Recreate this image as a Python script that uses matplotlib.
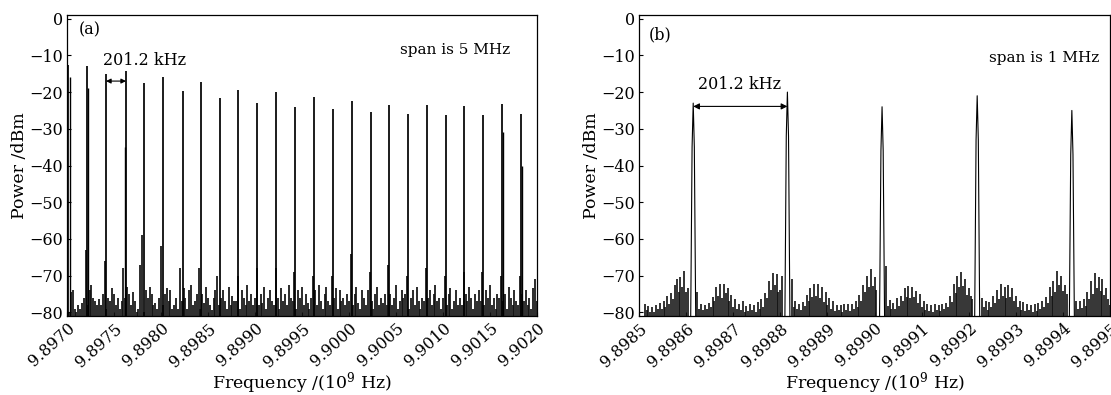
import numpy as np
import matplotlib
matplotlib.use("Agg")
import matplotlib.pyplot as plt

plt.rcParams['font.family'] = ['DejaVu Serif']
plt.rcParams['mathtext.fontset'] = 'dejavuserif'
plt.rcParams['axes.unicode_minus'] = True

# ---------------- Panel (a): span 5 MHz ----------------
a_peak_freq = [9.897014, 9.897210, 9.897415, 9.897628, 9.897822, 9.898024, 9.898231,
               9.898426, 9.898628, 9.898822, 9.899024, 9.899223, 9.899426, 9.899628,
               9.899827, 9.900029, 9.900231, 9.900429, 9.900631, 9.900827, 9.901032,
               9.901227, 9.901429, 9.901624, 9.901827]
a_peak_dbm = [-12.5, -13, -15, -14.2, -17.6, -16, -19.7, -17.3, -21.7, -19.4, -23.1, -20.1,
              -24, -21.4, -24.5, -22.3, -25.4, -23.4, -26.1, -23.4, -26.3, -23.8, -26.3,
              -23.2, -26.1]
# secondary (shorter) lines next to some peaks
a_side_idx = [0, 1, 3, 23, 24]
a_side_dbm = [-16, -19, -35, -31, -40]
a_side_dir = [1, 1, -1, 1, 1]

a_noise_start = 9.8970
a_noise_step = 0.00002
a_noise_dbm = [
    -78, -80, -74.5, -74, -79, -80, -78, -79, -77.5, -76,
    -63, -78, -74, -72.5, -76, -77, -78, -76.5, -78, -75,
    -66, -79, -76, -77, -73.5, -75, -78, -76, -79, -77,
    -68, -76, -73, -75, -78, -74.5, -77, -80, -79, -67,
    -59, -80, -74, -76, -73, -75, -78, -77.5, -79, -76,
    -62, -78, -75, -73.5, -77, -74, -79, -78, -76, -79,
    -68, -77, -73.5, -76, -79, -74, -72.5, -78, -77, -75,
    -68, -79, -75, -77.5, -73, -76, -78, -79.5, -76, -74,
    -70, -78, -76, -74, -77, -79, -73, -78, -75.5, -77,
    -77, -70, -79, -74, -76, -78, -72.5, -77, -75, -78,
    -76, -68, -78, -75, -77.5, -73, -79, -76, -74, -77,
    -78, -68, -76, -79, -73.5, -77, -75, -78, -72.5, -76,
    -77, -69, -79, -74, -76, -73, -78, -75, -77.5, -79,
    -76, -70, -74, -78, -72.5, -77, -79, -75, -73, -77,
    -78, -70, -76, -73.5, -79, -74, -77, -76, -78, -75,
    -77, -64, -78, -75, -73, -77.5, -79, -74, -76, -78,
    -74, -69, -77, -79, -75, -73, -78, -76, -77.5, -75,
    -78, -67, -75, -78, -76, -72.5, -79, -77, -74, -76,
    -75, -70, -79, -76, -74, -78, -73, -77, -79, -76,
    -77, -68, -76, -74, -78, -75, -72.5, -77, -76, -79,
    -76, -70, -78, -75, -73.5, -79, -77, -74, -78, -76,
    -78, -69, -75, -77, -73, -76, -79, -75, -77, -74,
    -77, -69, -78, -74, -76, -72.5, -78, -76, -79, -75,
    -76, -70, -77, -75, -79, -73, -76, -78, -74, -77,
    -78, -70, -75, -77, -74, -78, -76, -79, -73.5, -71,
    -77]
a_xticks = [9.8970, 9.8975, 9.8980, 9.8985, 9.8990, 9.8995, 9.9000, 9.9005, 9.9010, 9.9015, 9.9020]

# ---------------- Panel (b): span 1 MHz ----------------
b_peak_freq = [9.898615, 9.898815, 9.899016, 9.899218, 9.899419]
b_peak_dbm = [-23, -20, -24, -21, -25]

b_noise_start = 9.8985
b_noise_step = 0.000004
b_noise_dbm = [
    -81, -81, -81, -77.8, -79.5, -78.2, -80, -78.5, -79.8, -77.9,
    -79.2, -77.4, -79, -76.8, -78.6, -75.5, -77.8, -74.6, -76.5, -72.5,
    -71, -74.5, -70.5, -73, -68.8, -74.5, -73.5, -81, -81, -81,
    -81, -74.5, -79, -77.6, -79.5, -78, -79.2, -77.4, -78.6, -75.8,
    -77, -73.2, -75.5, -72.4, -76, -72.3, -74.8, -73.5, -77, -75.2,
    -78.5, -76.5, -79.2, -77.8, -79.5, -77, -79.8, -78.2, -79.6, -77.6,
    -79.4, -78, -79.8, -77.2, -79, -76.5, -78.5, -74.8, -76, -71.5,
    -73.8, -69.2, -72.5, -69.6, -74.5, -73.8, -70, -81, -81, -81,
    -81, -71, -78.5, -76.8, -79.2, -77.6, -79.5, -77.2, -78.4, -75.2,
    -77, -73.5, -75.8, -72.4, -75.5, -72.3, -76, -73, -77.2, -74.5,
    -78, -76, -79.2, -76.8, -79.6, -77.9, -79.4, -78, -79.8, -77.6,
    -79.5, -77.8, -79.6, -77.6, -79, -76.8, -78.5, -75.4, -76.8, -72.5,
    -74.5, -70, -73.2, -68.3, -72.8, -70.5, -74, -81, -81, -81,
    -81, -67.4, -78.2, -76.6, -79.2, -77.4, -79, -76.2, -78.4, -75.5,
    -77, -73.5, -75.8, -72.8, -76.2, -73, -75.8, -74.2, -77.5, -75,
    -78.6, -77, -79.5, -77.6, -79.6, -78, -79.8, -77.8, -79.4, -78,
    -79.6, -77.6, -79.2, -77.4, -78.6, -75.5, -77.2, -72.2, -74.6, -70,
    -73.2, -69, -72.8, -71, -75.4, -73.5, -75.5, -76.5, -81, -81,
    -81, -81, -76, -78.5, -76.8, -79.4, -77.2, -78.6, -75.6, -77.5,
    -74, -76.4, -72.3, -75.6, -73, -76, -72.5, -75.8, -73.5, -77,
    -75.5, -78.6, -76.8, -79.4, -77.2, -79.6, -77.8, -79.5, -78, -79.8,
    -77.8, -79.6, -77.4, -79.2, -76.8, -78.6, -75.8, -77.5, -73, -75.6,
    -71.5, -74.4, -68.8, -72.5, -70, -74.2, -72.5, -75, -81, -81,
    -81, -81, -77, -79.2, -76.8, -78.8, -76.4, -78.2, -74.5, -76.5,
    -71.5, -75, -69.4, -73.5, -70.5, -74.2, -71, -75.2, -73.5, -76.5,
    -78]
b_xticks = [9.8985, 9.8986, 9.8987, 9.8988, 9.8989, 9.8990, 9.8991, 9.8992, 9.8993, 9.8994, 9.8995]

y_ticks = [0, -10, -20, -30, -40, -50, -60, -70, -80]
y_floor = -81
y_top = 1

# ---------------- figure ----------------
fig = plt.figure(figsize=(11.11, 3.95), dpi=100)
ax_a = fig.add_axes([0.0603, 0.200, 0.4230, 0.762])
ax_b = fig.add_axes([0.5752, 0.200, 0.4239, 0.762])

ink = '#111111'

# panel (a)
a_nf = a_noise_start + a_noise_step * np.arange(len(a_noise_dbm))
ax_a.vlines(a_nf, y_floor, a_noise_dbm, color=ink, lw=1.25)
ax_a.vlines(a_peak_freq, y_floor, a_peak_dbm, color='black', lw=1.25)
for i, d, s in zip(a_side_idx, a_side_dbm, a_side_dir):
    ax_a.vlines(a_peak_freq[i] + s * 0.000016, y_floor, d, color='black', lw=1.0)

ax_a.set_xlim(9.8970, 9.9020)
ax_a.set_xticks(a_xticks)
ax_a.set_xticklabels([f"{t:.4f}" for t in a_xticks])

# panel (b)
b_nf = b_noise_start + b_noise_step * np.arange(len(b_noise_dbm))
ax_b.vlines(b_nf, y_floor, b_noise_dbm, color=ink, lw=1.2)
hw = 0.0000053
for f, d in zip(b_peak_freq, b_peak_dbm):
    ax_b.plot([f - hw, f - 0.45 * hw, f, f + 0.45 * hw, f + hw],
              [y_floor, d - 12, d, d - 12, y_floor], color='black', lw=0.8)

ax_b.set_xlim(9.8985, 9.8995)
ax_b.set_xticks(b_xticks)
ax_b.set_xticklabels([f"{t:.4f}" for t in b_xticks])

for ax in (ax_a, ax_b):
    ax.set_ylim(y_floor, y_top)
    ax.set_yticks(y_ticks)
    ax.set_yticklabels([f"{t}".replace('-', '\u2212') for t in y_ticks], fontsize=11.5)
    ax.tick_params(direction='in', length=3, width=0.8, pad=3)
    for lab in ax.get_xticklabels():
        lab.set_rotation(42)
        lab.set_ha('right')
        lab.set_va('top')
        lab.set_rotation_mode('anchor')
        lab.set_fontsize(11.5)
    for sp in ax.spines.values():
        sp.set_linewidth(0.9)
    ax.set_xlabel('Frequency /(10$^9$ Hz)', fontsize=12.5, labelpad=0)
    ax.set_ylabel('Power /dBm', fontsize=12.5, labelpad=1)

# annotations (a)
ax_a.text(9.89712, -3, '(a)', fontsize=11.5, ha='left', va='center')
ax_a.text(9.89782, -11.5, '201.2 kHz', fontsize=11.5, ha='center', va='center')
ax_a.annotate('', xy=(a_peak_freq[2], -17), xytext=(a_peak_freq[3], -17),
              arrowprops=dict(arrowstyle='<|-|>', color='black', lw=0.8,
                              mutation_scale=7, shrinkA=0, shrinkB=0))
ax_a.text(9.90171, -8.5, 'span is 5 MHz', fontsize=11, ha='right', va='center')

# annotations (b)
ax_b.text(9.89852, -4.3, '(b)', fontsize=11.5, ha='left', va='center')
ax_b.text(9.898714, -18, '201.2 kHz', fontsize=11.5, ha='center', va='center')
ax_b.annotate('', xy=(b_peak_freq[0], -23.9), xytext=(b_peak_freq[1], -23.9),
              arrowprops=dict(arrowstyle='<|-|>', color='black', lw=0.8,
                              mutation_scale=9, shrinkA=0, shrinkB=0))
ax_b.text(9.899477, -10.8, 'span is 1 MHz', fontsize=11, ha='right', va='center')

fig.savefig('out.png', dpi=100)
